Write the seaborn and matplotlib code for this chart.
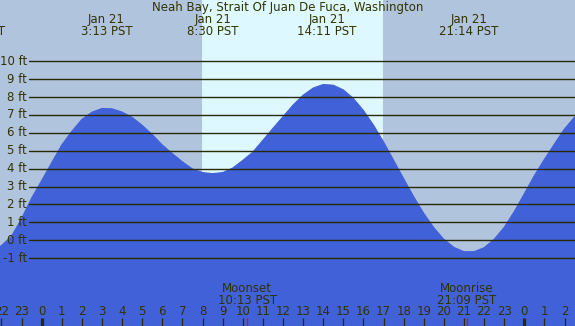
import matplotlib
matplotlib.use("Agg")
import matplotlib.pyplot as plt
import matplotlib.transforms as mtransforms
import seaborn as sns
import pandas as pd

# ---------------- data ----------------
title = "Neah Bay, Strait Of Juan De Fuca, Washington"

# tide height (ft) every half hour, hours relative to 0:00 Jan 21
hours = [-2.5, -2.0, -1.5, -1.0, -0.5, 0.0, 0.5, 1.0, 1.5, 2.0, 2.5, 3.0, 3.5,
         4.0, 4.5, 5.0, 5.5, 6.0, 6.5, 7.0, 7.5, 8.0, 8.5, 9.0, 9.5, 10.0,
         10.5, 11.0, 11.5, 12.0, 12.5, 13.0, 13.5, 14.0, 14.5, 15.0, 15.5,
         16.0, 16.5, 17.0, 17.5, 18.0, 18.5, 19.0, 19.5, 20.0, 20.5, 21.0,
         21.5, 22.0, 22.5, 23.0, 23.5, 24.0, 24.5, 25.0, 25.5, 26.0, 26.5, 27.0]
heights = [-0.62, -0.30, 0.22, 1.20, 2.35, 3.33, 4.33, 5.32, 6.08, 6.75, 7.15, 7.36, 7.34,
           7.16, 6.86, 6.42, 5.90, 5.32, 4.84, 4.38, 3.98, 3.78, 3.72, 3.78, 4.03, 4.46,
           4.92, 5.58, 6.25, 6.90, 7.55, 8.10, 8.50, 8.70, 8.66, 8.40, 7.92,
           7.25, 6.43, 5.49, 4.47, 3.44, 2.43, 1.50, 0.70, 0.05, -0.40, -0.64,
           -0.64, -0.42, 0.05, 0.72, 1.60, 2.60, 3.61, 4.52, 5.38, 6.22, 6.88, 7.35]

# tide extremes labels (time in hours, date text, time text)
extreme_hours = [-3.29, 3.217, 8.5, 14.183, 21.233]
extreme_dates = ["Jan 20", "Jan 21", "Jan 21", "Jan 21", "Jan 21"]
extreme_times = ["20:43 PST", "3:13 PST", "8:30 PST", "14:11 PST", "21:14 PST"]

# daylight
sunrise = 7.97
sunset = 16.95

# moon events
moon_hours = [10.217, 21.15]
moon_names = ["Moonset", "Moonrise"]
moon_times = ["10:13 PST", "21:09 PST"]

# axis ticks
ft_levels = [-1, 0, 1, 2, 3, 4, 5, 6, 7, 8, 9, 10]
ft_labels = [f"{v} ft" for v in ft_levels]
tick_hours = list(range(-2, 27))
tick_labels = [str(h % 24) for h in tick_hours]

# ---------------- style ----------------
W, H = 575, 326
BG = "#B0C4DE"
DAY = "#DDF8FF"
WATER = "#4161D8"
INK = "#333300"
FS = 8.5

sns.set_style("white")
plt.rcParams["font.family"] = ["DejaVu Sans"]

fig = plt.figure(figsize=(W / 100, H / 100), dpi=100)
ax = fig.add_axes([0, 0, 1, 1])
ax.set_facecolor(BG)
ax.axis("off")
fig.patch.set_facecolor(BG)

# daylight band
ax.axvspan(sunrise, sunset, color=DAY, lw=0, zorder=0)

# tide fill
df = pd.DataFrame({"hour": hours, "ft": heights})
ax.fill_between(df["hour"], df["ft"], -10, color=WATER, lw=0, zorder=1)
sns.lineplot(data=df, x="hour", y="ft", ax=ax, color=WATER, lw=0.8, zorder=2)
ax.set_xlim(-2.07, 26.52)
ax.set_ylim(-4.79, 13.42)
ax.axis("off")

# horizontal level lines + labels
xfrac0 = 29 / W
yt = mtransforms.blended_transform_factory(ax.transAxes, ax.transData)
for v, lab in zip(ft_levels, ft_labels):
    ax.axhline(v, xmin=xfrac0, xmax=1, color="#2a2a00", lw=1.0, zorder=3)
    ax.text(27 / W, v, lab, transform=yt, ha="right", va="center",
            fontsize=FS, color=INK, zorder=4)

bt = mtransforms.blended_transform_factory(ax.transData, ax.transAxes)

# title
ax.text(0.5, 1 - 8 / H, title, transform=ax.transAxes, ha="center", va="center",
        fontsize=FS, color=INK, zorder=5)

# extreme labels
for h, d, t in zip(extreme_hours, extreme_dates, extreme_times):
    ax.text(h, 1 - 19.5 / H, d, transform=bt, ha="center", va="center", fontsize=FS, color=INK, zorder=5)
    ax.text(h, 1 - 31.5 / H, t, transform=bt, ha="center", va="center", fontsize=FS, color=INK, zorder=5)

# moon labels
for h, n, t in zip(moon_hours, moon_names, moon_times):
    ax.text(h, 1 - 288 / H, n, transform=bt, ha="center", va="center", fontsize=FS, color=INK, zorder=5)
    ax.text(h, 1 - 300 / H, t, transform=bt, ha="center", va="center", fontsize=FS, color=INK, zorder=5)
    ax.vlines(h, 0, 8 / H, transform=bt, color="red", lw=0.9, zorder=6)

# hour ticks
for h, lab in zip(tick_hours, tick_labels):
    ax.text(h, 1 - 311.5 / H, lab, transform=bt, ha="center", va="center", fontsize=FS, color=INK, zorder=5)
    lw = 2.3 if h % 24 == 0 else 0.9
    ax.vlines(h, 0, 8 / H, transform=bt, color="#2a2a00", lw=lw, zorder=5)

fig.savefig("out.png", dpi=100, facecolor=BG)
